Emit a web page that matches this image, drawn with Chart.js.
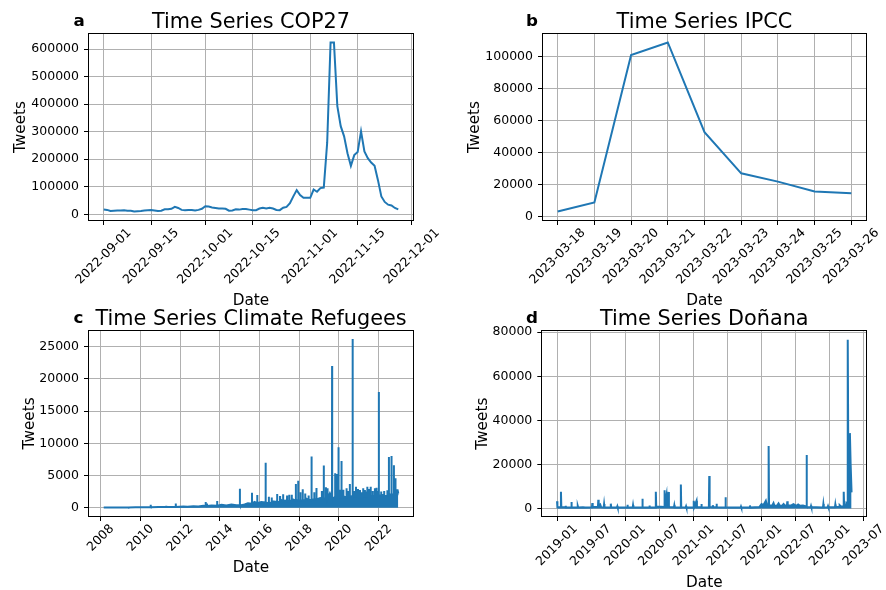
<!DOCTYPE html>
<html>
<head>
<meta charset="utf-8">
<script src="https://cdn.jsdelivr.net/npm/chart.js@4.4.0/dist/chart.umd.min.js"></script>
<style>
html, body { margin: 0; padding: 0; background: #fff; overflow: hidden; }
#fig { position: relative; width: 886px; height: 590px; font-family: 'DejaVu Sans', sans-serif; }
#fig canvas { position: absolute; }
.titulo { position: absolute; width: 400px; text-align: center; font-size: 20.8px; line-height: 20.8px; color: #000; white-space: nowrap; }
.letra { position: absolute; font-size: 16.7px; line-height: 16.7px; font-weight: bold; color: #000; }
</style>
</head>
<body>
<div id="fig">
  <canvas id="chartA" width="443" height="310" style="left:0;top:0"></canvas>
  <canvas id="chartB" width="443" height="310" style="left:443px;top:0"></canvas>
  <canvas id="chartC" width="443" height="295" style="left:0;top:295px"></canvas>
  <canvas id="chartD" width="443" height="300" style="left:443px;top:295px"></canvas>

  <div class="titulo" style="left:51px;top:11.4px">Time Series COP27</div>
  <div class="titulo" style="left:504.5px;top:11.4px">Time Series IPCC</div>
  <div class="titulo" style="left:51px;top:308.1px">Time Series Climate Refugees</div>
  <div class="titulo" style="left:504.3px;top:308.1px">Time Series Doñana</div>

  <div class="letra" style="left:73.5px;top:12.4px">a</div>
  <div class="letra" style="left:526px;top:12.4px">b</div>
  <div class="letra" style="left:73.5px;top:308.6px">c</div>
  <div class="letra" style="left:526px;top:308.6px">d</div>
</div>

<script>
const AZUL = '#1f77b4'
const GRIS = '#b0b0b0'
const FUENTE = "'DejaVu Sans', sans-serif"

// a) COP27: un valor por dia desde cop27Inicio
const cop27Inicio = '2022-09-01'
const cop27Tweets = [
    17000, 16000, 12000, 13000, 14000, 14000, 15000, 13000, 13000, 10000,
    11000, 12000, 14000, 15000, 16000, 14000, 12000, 13000, 18000, 18000,
    20000, 27000, 23000, 16000, 15000, 16000, 16000, 14000, 16000, 20000,
    29000, 28000, 25000, 23000, 21000, 21000, 20000, 13000, 14000, 18000,
    17000, 19000, 19000, 17000, 15000, 15000, 21000, 24000, 21000, 24000,
    21000, 16000, 15000, 24000, 27000, 40000, 65000, 88000, 70000, 60000,
    60000, 60000, 90000, 82000, 95000, 97000, 260000, 624000, 624000, 393000,
    320000, 283000, 222000, 176000, 215000, 226000, 301000, 228000, 204000, 188000,
    176000, 124000, 65000, 45000, 35000, 32000, 23000, 18000
]
const cop27Ticks = ['2022-09-01', '2022-09-15', '2022-10-01', '2022-10-15', '2022-11-01', '2022-11-15', '2022-12-01']
const cop27YTicks = [0, 100000, 200000, 300000, 400000, 500000, 600000]

// b) IPCC
const ipccFechas = ['2023-03-18', '2023-03-19', '2023-03-20', '2023-03-21', '2023-03-22', '2023-03-23', '2023-03-24', '2023-03-25', '2023-03-26']
const ipccTweets = [3100, 8800, 101000, 108800, 52700, 27000, 21800, 15700, 14600]
const ipccTicks = ipccFechas
const ipccYTicks = [0, 20000, 40000, 60000, 80000, 100000]

// c) Climate Refugees: [fecha, tweets]
const refugiadosSerie = [
    ['2008-02-25', 20], ['2008-09-01', 40], ['2009-03-01', 30],
    ['2009-05-18', 40], ['2009-05-20', 200], ['2009-05-22', 30],
    ['2009-10-01', 60], ['2010-03-01', 80],
    ['2010-07-06', 70], ['2010-07-08', 470], ['2010-07-10', 60],
    ['2010-12-01', 120],
    ['2011-04-18', 100], ['2011-04-20', 300], ['2011-04-22', 100],
    ['2011-10-10', 120], ['2011-10-12', 670], ['2011-10-14', 120],
    ['2012-03-01', 200], ['2012-05-15', 150], ['2012-09-01', 220], ['2012-12-01', 180],
    ['2013-03-01', 300],
    ['2013-04-13', 250], ['2013-04-15', 880], ['2013-04-17', 250],
    ['2013-05-06', 250], ['2013-05-08', 650], ['2013-05-10', 250],
    ['2013-08-01', 350],
    ['2013-11-10', 300], ['2013-11-12', 1040], ['2013-11-14', 300],
    ['2014-02-01', 450], ['2014-05-01', 350], ['2014-08-01', 500], ['2014-11-01', 400],
    ['2015-01-02', 400], ['2015-01-04', 2950], ['2015-01-06', 350],
    ['2015-04-01', 500], ['2015-06-01', 700],
    ['2015-08-13', 600], ['2015-08-15', 2330], ['2015-08-17', 600],
    ['2015-10-01', 900],
    ['2015-11-18', 700], ['2015-11-20', 1970], ['2015-11-22', 700],
    ['2016-02-01', 900],
    ['2016-04-20', 800], ['2016-04-22', 6990], ['2016-04-24', 800],
    ['2016-06-18', 700], ['2016-06-20', 1700], ['2016-06-22', 700],
    ['2016-08-10', 800], ['2016-08-12', 1600], ['2016-08-14', 800],
    ['2016-09-01', 1000],
    ['2016-11-18', 900], ['2016-11-20', 2120], ['2016-11-22', 900],
    ['2017-01-10', 900], ['2017-01-12', 1800], ['2017-01-14', 1000],
    ['2017-02-01', 1200],
    ['2017-03-08', 1000], ['2017-03-10', 2100], ['2017-03-12', 1000],
    ['2017-04-15', 1100],
    ['2017-05-20', 1000], ['2017-05-22', 1900], ['2017-05-24', 1000],
    ['2017-06-29', 1000], ['2017-07-01', 2020], ['2017-07-03', 1000],
    ['2017-08-14', 1100], ['2017-08-16', 2000], ['2017-08-18', 1100],
    ['2017-09-01', 1300],
    ['2017-10-28', 1100], ['2017-10-30', 3680], ['2017-11-01', 1100],
    ['2017-12-10', 1200], ['2017-12-12', 4200], ['2017-12-14', 1200],
    ['2018-01-20', 1100], ['2018-01-22', 2400], ['2018-01-24', 1100],
    ['2018-03-03', 1100], ['2018-03-05', 2850], ['2018-03-07', 1100],
    ['2018-04-18', 1200], ['2018-04-20', 2200], ['2018-04-22', 1200],
    ['2018-05-15', 1400],
    ['2018-06-20', 1200], ['2018-06-22', 1900], ['2018-06-24', 1200],
    ['2018-08-13', 1200], ['2018-08-15', 7930], ['2018-08-17', 1200],
    ['2018-10-02', 1300], ['2018-10-04', 2400], ['2018-10-06', 1300],
    ['2018-11-11', 1300], ['2018-11-13', 3050], ['2018-11-15', 1300],
    ['2019-01-20', 1500],
    ['2019-02-18', 1400], ['2019-02-20', 2600], ['2019-02-22', 1400],
    ['2019-03-26', 1400], ['2019-03-28', 6530], ['2019-03-30', 1400],
    ['2019-05-05', 1500], ['2019-05-07', 3160], ['2019-05-09', 1500],
    ['2019-06-03', 1400], ['2019-06-05', 3000], ['2019-06-07', 1400],
    ['2019-07-19', 2230],
    ['2019-08-26', 1500], ['2019-08-28', 22000], ['2019-08-30', 1600],
    ['2019-10-21', 1500], ['2019-10-23', 5340], ['2019-10-25', 1500],
    ['2019-11-26', 1600], ['2019-11-28', 5230], ['2019-11-30', 1600],
    ['2019-12-22', 1500], ['2019-12-24', 9380], ['2019-12-26', 1500],
    ['2020-01-20', 1600], ['2020-01-22', 2800], ['2020-01-24', 1600],
    ['2020-02-15', 1600], ['2020-02-17', 7250], ['2020-02-19', 1600],
    ['2020-03-20', 1600], ['2020-03-22', 2800], ['2020-03-24', 1600],
    ['2020-04-15', 1700],
    ['2020-05-18', 1600], ['2020-05-20', 3000], ['2020-05-22', 1600],
    ['2020-06-18', 1700], ['2020-06-20', 2600], ['2020-06-22', 1700],
    ['2020-07-17', 1700], ['2020-07-19', 3680], ['2020-07-21', 1700],
    ['2020-09-07', 1800], ['2020-09-09', 26160], ['2020-09-11', 1800],
    ['2020-10-10', 1700], ['2020-10-12', 2600], ['2020-10-14', 1700],
    ['2020-11-08', 1700], ['2020-11-10', 3260], ['2020-11-12', 1700],
    ['2020-12-14', 1700], ['2020-12-16', 2900], ['2020-12-18', 1700],
    ['2021-01-20', 1600], ['2021-01-22', 2750], ['2021-01-24', 1600],
    ['2021-02-24', 1600], ['2021-02-26', 2400], ['2021-02-28', 1600],
    ['2021-03-20', 1700], ['2021-03-22', 3000], ['2021-03-24', 1700],
    ['2021-04-21', 1700], ['2021-04-23', 2750], ['2021-04-25', 1700],
    ['2021-05-16', 1700], ['2021-05-18', 2500], ['2021-05-20', 1700],
    ['2021-06-04', 1800], ['2021-06-06', 3260], ['2021-06-08', 1800],
    ['2021-07-10', 1800], ['2021-07-12', 2900], ['2021-07-14', 1800],
    ['2021-08-05', 1800], ['2021-08-07', 3260], ['2021-08-09', 1800],
    ['2021-09-12', 1800], ['2021-09-14', 2600], ['2021-09-16', 1800],
    ['2021-10-21', 1800], ['2021-10-23', 3000], ['2021-10-25', 1800],
    ['2021-11-20', 1800], ['2021-11-22', 3100], ['2021-11-24', 1800],
    ['2021-12-10', 1800], ['2021-12-12', 2600], ['2021-12-14', 1800],
    ['2022-01-02', 1900], ['2022-01-04', 17940], ['2022-01-06', 1900],
    ['2022-02-14', 1900], ['2022-02-16', 2500], ['2022-02-18', 1900],
    ['2022-03-15', 1970],
    ['2022-04-10', 1800], ['2022-04-12', 2600], ['2022-04-14', 1800],
    ['2022-05-06', 1800],
    ['2022-06-08', 1900], ['2022-06-10', 2700], ['2022-06-12', 1900],
    ['2022-07-06', 2000], ['2022-07-08', 7870], ['2022-07-10', 2000],
    ['2022-08-23', 2100], ['2022-08-25', 8030], ['2022-08-27', 2100],
    ['2022-10-06', 2000], ['2022-10-08', 6580], ['2022-10-10', 2000],
    ['2022-11-04', 2100], ['2022-11-06', 4560], ['2022-11-08', 2100],
    ['2022-12-11', 2100], ['2022-12-13', 2850], ['2022-12-28', 2200]
]
const refugiadosTicks = ['2008', '2010', '2012', '2014', '2016', '2018', '2020', '2022']
const refugiadosYTicks = [0, 5000, 10000, 15000, 20000, 25000]

// d) Doñana: [fecha, tweets]
const donanaSerie = [
    ['2019-01-01', 3300], ['2019-01-03', 600],
    ['2019-01-20', 700], ['2019-01-22', 7600], ['2019-01-24', 700],
    ['2019-02-14', 600], ['2019-02-16', 1200], ['2019-02-18', 500],
    ['2019-03-17', 500], ['2019-03-19', 3000], ['2019-03-21', 500],
    ['2019-04-20', 500], ['2019-04-22', 1100], ['2019-04-24', 500],
    ['2019-05-20', 600], ['2019-06-01', 500],
    ['2019-07-07', 600], ['2019-07-09', 2500], ['2019-07-11', 700],
    ['2019-08-08', 800], ['2019-08-10', 3950], ['2019-08-12', 1200], ['2019-08-20', 1800], ['2019-08-25', 600],
    ['2019-09-08', 500], ['2019-09-10', 2000], ['2019-09-12', 500],
    ['2019-10-14', 500], ['2019-10-16', 2200], ['2019-10-18', 500],
    ['2019-11-18', 500], ['2019-11-20', 1000], ['2019-11-22', 400],
    ['2019-12-15', 400],
    ['2020-01-11', 400], ['2020-01-13', 1700], ['2020-01-15', 400],
    ['2020-02-10', 400], ['2020-02-12', 1500], ['2020-02-14', 400],
    ['2020-03-10', 400], ['2020-03-12', 900], ['2020-03-14', 400],
    ['2020-03-31', 400], ['2020-04-02', 4400], ['2020-04-04', 500],
    ['2020-05-08', 500], ['2020-05-10', 1300], ['2020-05-12', 500],
    ['2020-06-11', 500], ['2020-06-13', 7600], ['2020-06-15', 900],
    ['2020-07-10', 800],
    ['2020-07-27', 700], ['2020-07-29', 8300], ['2020-07-31', 1500],
    ['2020-08-09', 6200], ['2020-08-11', 1200], ['2020-08-20', 7500], ['2020-08-22', 700],
    ['2020-09-18', 600], ['2020-09-20', 1500], ['2020-09-22', 500],
    ['2020-10-23', 500], ['2020-10-25', 10900], ['2020-10-27', 600],
    ['2020-11-20', 500], ['2020-11-22', 1000], ['2020-11-24', 400],
    ['2020-12-31', 600], ['2021-01-02', 3500], ['2021-01-04', 600], ['2021-01-17', 3500], ['2021-01-19', 600],
    ['2021-02-10', 600], ['2021-02-12', 2000], ['2021-02-14', 500],
    ['2021-03-24', 500], ['2021-03-26', 14700], ['2021-03-28', 700],
    ['2021-04-12', 600], ['2021-04-14', 1500], ['2021-04-16', 600],
    ['2021-05-02', 600], ['2021-05-04', 2200], ['2021-05-06', 600],
    ['2021-06-19', 500], ['2021-06-21', 5100], ['2021-06-23', 500],
    ['2021-08-15', 400],
    ['2021-09-10', 400], ['2021-09-12', 900], ['2021-09-14', 400],
    ['2021-10-28', 400], ['2021-10-30', 1400], ['2021-11-01', 400],
    ['2021-12-20', 700], ['2021-12-31', 2000], ['2022-01-10', 1500], ['2022-01-23', 3500], ['2022-01-28', 1800],
    ['2022-02-05', 1800], ['2022-02-07', 28400], ['2022-02-09', 1500],
    ['2022-02-25', 1200], ['2022-03-05', 2500], ['2022-03-10', 1200],
    ['2022-03-25', 1400], ['2022-04-01', 2300], ['2022-04-08', 1200],
    ['2022-04-20', 1300], ['2022-04-28', 2000], ['2022-05-05', 1300],
    ['2022-05-16', 1300], ['2022-05-18', 3300], ['2022-05-20', 1300],
    ['2022-06-10', 1500], ['2022-06-20', 2000], ['2022-07-05', 1200],
    ['2022-07-15', 1800], ['2022-07-25', 1200], ['2022-08-10', 1400],
    ['2022-08-27', 900], ['2022-08-29', 24300], ['2022-08-31', 700],
    ['2022-09-20', 600], ['2022-09-22', 1200], ['2022-09-24', 600],
    ['2022-10-20', 600],
    ['2022-11-25', 500], ['2022-11-27', 2000], ['2022-11-29', 500],
    ['2022-12-20', 600], ['2022-12-22', 1100], ['2022-12-24', 600],
    ['2023-01-28', 600], ['2023-01-30', 1800], ['2023-02-01', 600],
    ['2023-02-20', 800], ['2023-02-22', 1500], ['2023-03-01', 900],
    ['2023-03-14', 1000], ['2023-03-16', 7600], ['2023-03-18', 1500],
    ['2023-03-28', 1400], ['2023-03-30', 2500],
    ['2023-04-04', 2000], ['2023-04-06', 76600], ['2023-04-07', 76600], ['2023-04-10', 13400],
    ['2023-04-13', 30000], ['2023-04-15', 15000], ['2023-04-18', 34200], ['2023-04-22', 20000], ['2023-04-27', 7300]
]
const donanaTicks = ['2019-01', '2019-07', '2020-01', '2020-07', '2021-01', '2021-07', '2022-01', '2022-07', '2023-01', '2023-07']
const donanaYTicks = [0, 20000, 40000, 60000, 80000]

const aFecha = (s) => Date.parse(s.length === 4 ? s + '-01-01' : s.length === 7 ? s + '-01' : s)

// rango con margen del 5% como en matplotlib
const conMargen = (valores) => {
    const min = Math.min(...valores)
    const max = Math.max(...valores)
    const m = (max - min) * 0.05
    return { min: min - m, max: max + m }
}

const marco = {
    id: 'marco',
    afterDraw(chart) {
        const { ctx, chartArea: a } = chart
        ctx.save()
        ctx.strokeStyle = '#000'
        ctx.lineWidth = 1
        ctx.strokeRect(Math.round(a.left) - 0.5, Math.round(a.top) - 0.5, Math.round(a.right - a.left) + 1, Math.round(a.bottom - a.top) + 1)
        ctx.restore()
    }
}

// etiquetas del eje x giradas 45 grados y centradas en cada tick
const etiquetasX = {
    id: 'etiquetasX',
    afterDraw(chart, args, opciones) {
        const escala = chart.scales.x
        const ctx = chart.ctx
        ctx.save()
        ctx.font = `12.5px ${FUENTE}`
        ctx.fillStyle = '#000'
        ctx.textAlign = 'center'
        ctx.textBaseline = 'middle'
        escala.ticks.forEach((t, i) => {
            const texto = opciones.textos[i]
            const px = escala.getPixelForValue(t.value)
            const w = ctx.measureText(texto).width
            const py = chart.chartArea.bottom + opciones.separacion + (w + 14) / (2 * Math.SQRT2)
            ctx.save()
            ctx.translate(px, py)
            ctx.rotate(-Math.PI / 4)
            ctx.fillText(texto, 0, 0)
            ctx.restore()
        })
        ctx.restore()
    }
}

const crearPanel = (id, puntos, xTicks, yTicks, caja, relleno) => {
    const rx = conMargen(puntos.map(p => p.x))
    const ry = conMargen(puntos.map(p => p.y))
    const context = document.getElementById(id).getContext('2d')

    return new Chart(context, {
        type: 'line',
        data: {
            datasets: [
                {
                    data: puntos,
                    borderColor: AZUL,
                    backgroundColor: AZUL,
                    borderWidth: 2,
                    pointRadius: 0,
                    tension: 0,
                    fill: relleno ? 'origin' : false
                }
            ]
        },
        options: {
            responsive: false,
            animation: false,
            events: [],
            layout: {
                padding: { left: 0, right: caja.w - caja.right, top: caja.top, bottom: 0 }
            },
            plugins: {
                legend: { display: false },
                tooltip: { enabled: false },
                etiquetasX: { textos: xTicks, separacion: caja.sep }
            },
            scales: {
                x: {
                    type: 'linear',
                    bounds: 'data',
                    min: rx.min,
                    max: rx.max,
                    afterBuildTicks: (s) => { s.ticks = xTicks.map(t => ({ value: aFecha(t) })) },
                    afterFit: (s) => { s.height = caja.h - caja.bottom },
                    ticks: { display: false },
                    grid: { color: GRIS, lineWidth: 1, tickLength: 5, tickColor: '#000', tickWidth: 1 },
                    border: { display: false },
                    title: {
                        display: true,
                        text: 'Date',
                        color: '#000',
                        font: { family: FUENTE, size: 15.3 },
                        padding: { top: 0, bottom: caja.xPad }
                    }
                },
                y: {
                    type: 'linear',
                    bounds: 'data',
                    min: ry.min,
                    max: ry.max,
                    afterBuildTicks: (s) => { s.ticks = yTicks.map(v => ({ value: v })) },
                    afterFit: (s) => { s.width = caja.left },
                    ticks: {
                        color: '#000',
                        padding: 5,
                        font: { family: FUENTE, size: 12.5 },
                        callback: (v) => String(v)
                    },
                    grid: { color: GRIS, lineWidth: 1, tickLength: 5, tickColor: '#000', tickWidth: 1 },
                    border: { display: false },
                    title: {
                        display: true,
                        text: 'Tweets',
                        color: '#000',
                        font: { family: FUENTE, size: 15.3 },
                        padding: { top: caja.yPad, bottom: 0 }
                    }
                }
            }
        },
        plugins: [marco, etiquetasX]
    })
}

const inicioCop = aFecha(cop27Inicio)
const puntosCop = cop27Tweets.map((v, i) => ({ x: inicioCop + i * 86400000, y: v }))
const puntosIpcc = ipccFechas.map((f, i) => ({ x: aFecha(f), y: ipccTweets[i] }))
const puntosRefugiados = refugiadosSerie.map(([f, v]) => ({ x: aFecha(f), y: v }))
const puntosDonana = donanaSerie.map(([f, v]) => ({ x: aFecha(f), y: v }))

crearPanel('chartA', puntosCop, cop27Ticks, cop27YTicks,
    { w: 443, h: 310, left: 89, right: 413, top: 34, bottom: 220, yPad: 12.3, xPad: 0, sep: 6 }, false)
crearPanel('chartB', puntosIpcc, ipccTicks, ipccYTicks,
    { w: 443, h: 310, left: 100, right: 423, top: 34, bottom: 220, yPad: 22.8, xPad: 0, sep: 6 }, false)
crearPanel('chartC', puntosRefugiados, refugiadosTicks, refugiadosYTicks,
    { w: 443, h: 295, left: 89, right: 413, top: 35.7, bottom: 221, yPad: 20.5, xPad: 12.8, sep: 6 }, true)
crearPanel('chartD', puntosDonana, donanaTicks, donanaYTicks,
    { w: 443, h: 300, left: 99.3, right: 423.3, top: 36.3, bottom: 221, yPad: 30.5, xPad: 3.1, sep: 6 }, true)
</script>
</body>
</html>
